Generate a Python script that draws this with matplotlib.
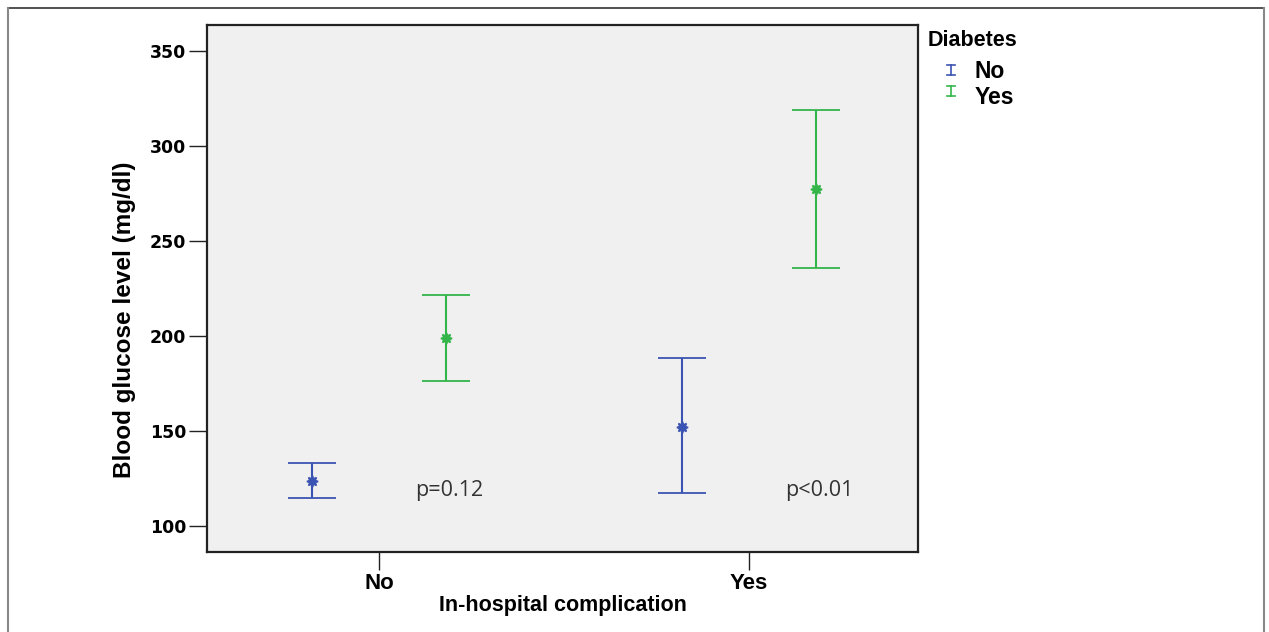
import matplotlib.pyplot as plt
from matplotlib.lines import Line2D

# data (mean and 95% CI)
categories = ['No', 'Yes']
groups = ['No', 'Yes']
mean_no = [123.7, 152.1]
low_no = [114.7, 117.4]
high_no = [133.2, 188.4]
mean_yes = [198.9, 277.4]
low_yes = [176.3, 235.8]
high_yes = [221.6, 318.9]
pvals = ['p=0.12', 'p<0.01']
yticks = [100, 150, 200, 250, 300, 350]

blue = '#3b54b3'
green = '#33b54a'
narrow = ['Liberation Sans Narrow', 'Liberation Sans', 'DejaVu Sans']

fig = plt.figure(figsize=(12.69, 6.32), dpi=100)
ax = fig.add_axes([0.1631, 0.1266, 0.5603, 0.8339])
ax.set_facecolor('#f0f0f0')

off = 0.182
series = [(mean_no, low_no, high_no, blue, -off), (mean_yes, low_yes, high_yes, green, off)]
for means, lows, highs, col, dx in series:
    xs = [i + dx for i in range(len(categories))]
    err = [[m - l for m, l in zip(means, lows)], [h - m for m, h in zip(means, highs)]]
    ax.errorbar(xs, means, yerr=err, fmt='none', ecolor=col, elinewidth=1.5,
                capsize=17, capthick=1.3)
    ax.plot(xs, means, linestyle='none', marker=(8, 1, 0), markersize=8,
            color=col, markeredgewidth=1.2)

for i, p in enumerate(pvals):
    ax.text(i + 0.097, 118.9, p, fontsize=15.5, color='#333333', family=['Open Sans', 'DejaVu Sans'],
            va='center', ha='left')

ax.set_xlim(-0.465, 1.457)
ax.set_ylim(86.3, 363.7)
ax.set_xticks(range(len(categories)))
ax.set_xticklabels(categories, fontsize=16, fontweight='bold', family=narrow)
ax.set_yticks(yticks)
ax.set_yticklabels([str(t) for t in yticks], fontsize=12.5, fontweight='bold', family=['DejaVu Sans'])
ax.tick_params(axis='both', direction='out', length=13, width=1, color='#222222', pad=2)
for s in ax.spines.values():
    s.set_linewidth(1.6)
    s.set_color('#222222')

ax.set_xlabel('In-hospital complication', fontsize=15.5, fontweight='bold', family=narrow, labelpad=1)
ax.set_ylabel('Blood glucose level (mg/dl)', fontsize=17.5, fontweight='bold', family=narrow,
              labelpad=10, y=0.44)

# legend
fig.text(928 / 1269, 1 - 40 / 632, 'Diabetes', fontsize=15.5, fontweight='bold', family=narrow, va='center')
W, H = 1269, 632
for j, (g, col) in enumerate(zip(groups, [blue, green])):
    yc = 70 + j * 21
    xc = 951
    fig.add_artist(Line2D([xc / W, xc / W], [1 - (yc - 5) / H, 1 - (yc + 5) / H], color=col, lw=1.2))
    for yy in (yc - 5, yc + 5):
        fig.add_artist(Line2D([(xc - 4) / W, (xc + 4) / W], [1 - yy / H, 1 - yy / H], color=col, lw=1.2))
    fig.text(975 / W, 1 - (yc + 1 + j * 5) / H, g, fontsize=16.5, fontweight='bold', family=narrow, va='center')

# outer frame
fig.add_artist(Line2D([8 / W, 1264 / W], [1 - 8 / H, 1 - 8 / H], color='#333333', lw=1.2))
fig.add_artist(Line2D([8 / W, 8 / W], [0, 1 - 8 / H], color='#888888', lw=1.5))
fig.add_artist(Line2D([1264 / W, 1264 / W], [0, 1 - 8 / H], color='#888888', lw=1.5))

plt.savefig('out.png', dpi=100)
